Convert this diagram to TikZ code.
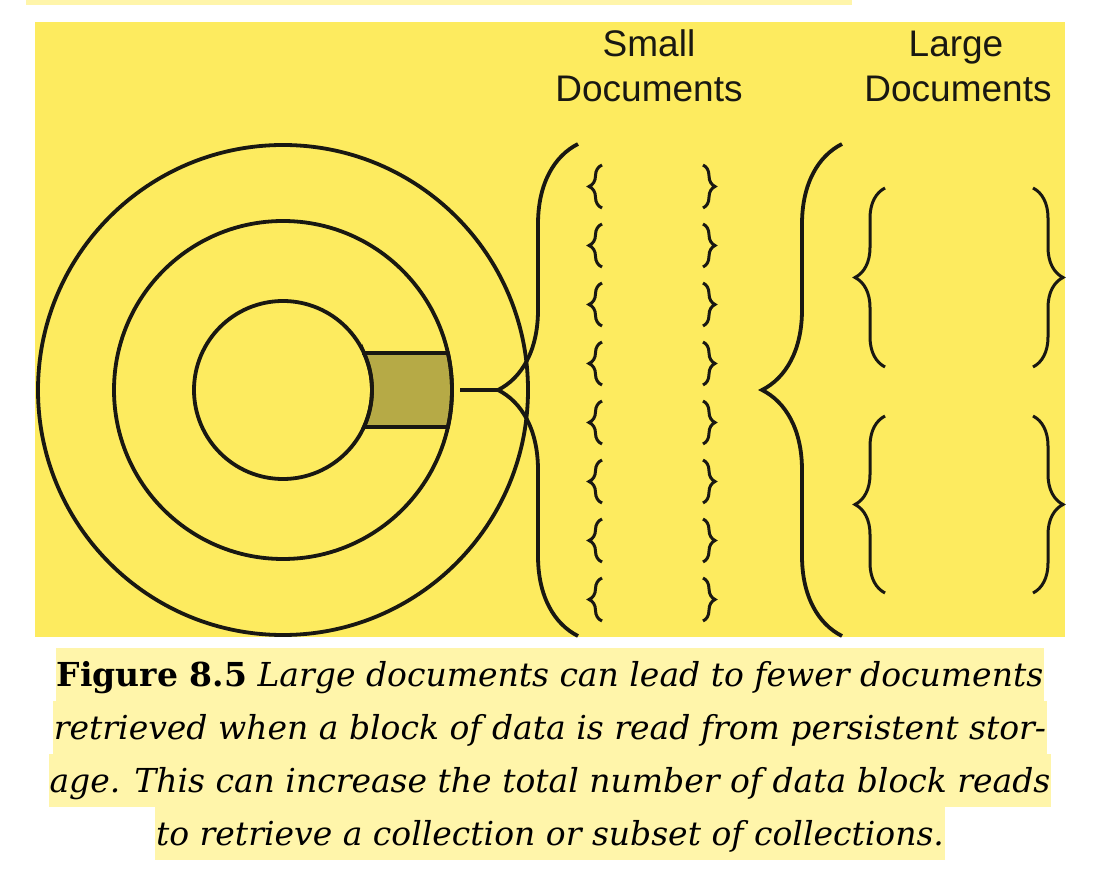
\documentclass[tikz,border=0pt]{standalone}
\usepackage{fontspec}
\setmainfont{DejaVu Serif}
\newfontfamily\headfont{Liberation Sans}
\usetikzlibrary{decorations.pathreplacing}

\definecolor{pagebg}{RGB}{253,235,95}
\definecolor{hilite}{RGB}{255,245,170}
\definecolor{sectorfill}{RGB}{182,170,70}
\definecolor{ink}{RGB}{25,24,18}

\begin{document}
\begin{tikzpicture}[x=1pt,y=1pt,
  ring/.style={draw=ink, line width=3.8pt},
  bigbrace/.style={draw=ink, line width=3.8pt, decorate, decoration={brace, amplitude=80pt}},
  docbrace/.style={draw=ink, line width=3pt, decorate, decoration={brace, amplitude=#1}},
  heading/.style={font=\headfont\fontsize{37}{45}\selectfont, text=ink, inner sep=0pt, anchor=base},
  capline/.style={fill=hilite, anchor=base, inner xsep=1pt, inner ysep=0pt, text height=38pt, text depth=15pt, font=\fontsize{33}{40}\selectfont}]

\useasboundingbox (0,0) rectangle (1116,884);
\fill[white] (0,0) rectangle (1116,884);
\fill[hilite] (26,879) rectangle (852,884);
\fill[pagebg] (35,247) rectangle (1065,862);

\filldraw[fill=sectorfill, draw=ink, line width=3.8pt] (363.9,531) -- (447.9,531) arc[start angle=12.65, end angle=-12.65, radius=169] -- (363.9,457) arc[start angle=-24.57, end angle=24.57, radius=89] -- cycle;
\foreach \r in {89,169,245} {
        \draw[ring] (283,494) circle (\r);
 }

\coordinate (tipsmall) at (498,494);
\coordinate (sectorend) at (460,494);
\draw[ring] (sectorend) -- (tipsmall);

\draw[bigbrace] (578,248) -- (578,740);
\draw[bigbrace] (842,248) -- (842,740);

\foreach \i in {0,...,7} {
        \draw[docbrace=13pt] (602,676-59*\i) -- (602,719-59*\i);
        \draw[docbrace=12pt] (703,719-59*\i) -- (703,676-59*\i);
 }

\foreach \lo/\hi in {517/696,291/468} {
        \draw[docbrace=30pt] (885,\lo) -- (885,\hi);
        \draw[docbrace=30pt] (1033,\hi) -- (1033,\lo);
 }

\node[heading] (smalltop) at (649,827) {Small};
\node[heading] (smallbot) at (649,782) {Documents};
\node[heading] (largetop) at (956,827) {Large};
\node[heading] (largebot) at (958,782) {Documents};

\node[capline] (capA) at (550,198) {\textbf{Figure 8.5} \textit{Large documents can lead to fewer documents}};
\node[capline] (capB) at (550,145) {\textit{retrieved when a block of data is read from persistent stor-}};
\node[capline] (capC) at (550,92) {\textit{age. This can increase the total number of data block reads}};
\node[capline] (capD) at (550,39) {\textit{to retrieve a collection or subset of collections.}};
\end{tikzpicture}
\end{document}
